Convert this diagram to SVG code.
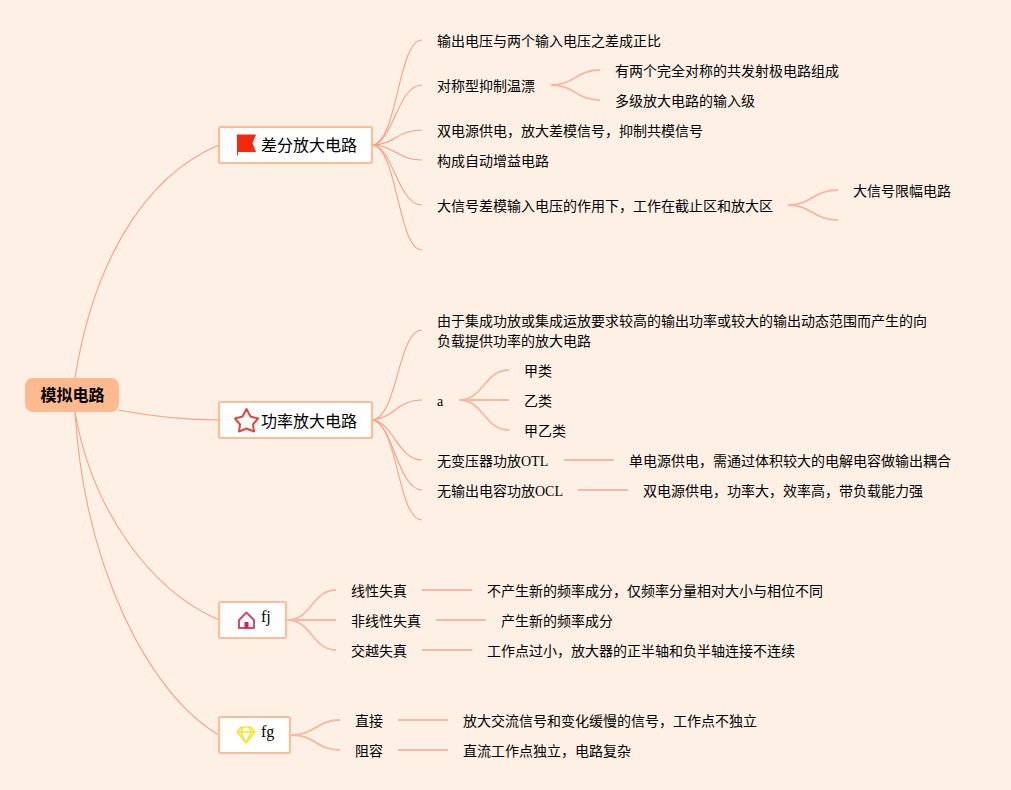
<svg xmlns="http://www.w3.org/2000/svg" width="1011" height="790" viewBox="0 0 1011 790">
<style>
text{font-family:"Liberation Serif","Noto Sans CJK SC",serif;font-size:14px;fill:#000}
.main{font-size:16px}
.root{font-size:16px;font-weight:700;fill:#000;font-family:"Liberation Sans","Noto Sans CJK SC",sans-serif}
.box{fill:#fff;stroke:#fcbe98;stroke-width:2.200}
.c{fill:none;stroke:#fb9f80;stroke-width:1.100}
.s{fill:none;stroke:#f8b9a0;stroke-width:1.800}
</style>
<rect width="1011" height="790" fill="#fff0e6"/>
<g id="connectors">
<path class="c" d="M75 378C92 270 140 178 219 145"/>
<path class="c" d="M118 410C150 416 180 420 219 420"/>
<path class="c" d="M75 412C92 510 150 590 219 620"/>
<path class="c" d="M75 412C85 570 150 695 219 735"/>
<path class="c" d="M373 145C398 140 398 40 422 40"/>
<path class="c" d="M373 145C393 142 398 85 422 85"/>
<path class="c" d="M373 145C393 145 398 130 422 130"/>
<path class="c" d="M373 145C393 145 398 160 422 160"/>
<path class="c" d="M373 145C393 147 398 205 422 205"/>
<path class="c" d="M373 145C398 150 398 250 422 250"/>
<path class="c" d="M373 420C398 415 398 330 422 330"/>
<path class="c" d="M373 420C393 418 398 400 422 400"/>
<path class="c" d="M373 420C393 422 398 460 422 460"/>
<path class="c" d="M373 420C393 423 398 490 422 490"/>
<path class="c" d="M373 420C398 425 398 520 422 520"/>
<path class="s" d="M551 85C575 85 576 70 600 70"/>
<path class="s" d="M551 85C575 85 576 100 600 100"/>
<path class="s" d="M788 205C812 205 813 190 838 190"/>
<path class="s" d="M788 205C812 205 813 220 838 220"/>
<path class="s" d="M459 400C484 400 484 370 509 370"/>
<path class="s" d="M459 400H509"/>
<path class="s" d="M459 400C484 400 484 430 509 430"/>
<path class="s" d="M564 460H614"/>
<path class="s" d="M578 490H628"/>
<path class="s" d="M287 620C312 620 312 590 336 590"/>
<path class="s" d="M287 620H336"/>
<path class="s" d="M287 620C312 620 312 650 336 650"/>
<path class="s" d="M422 590H472"/>
<path class="s" d="M436 620H486"/>
<path class="s" d="M422 650H472"/>
<path class="s" d="M291 735C316 735 316 720 340 720"/>
<path class="s" d="M291 735C316 735 316 750 340 750"/>
<path class="s" d="M398 720H448"/>
<path class="s" d="M398 750H448"/>
</g>
<g id="root"><rect x="25" y="378" width="94" height="34" rx="8" fill="#ffb98f"/><text class="root" x="40.500" y="401">模拟电路</text></g>
<g id="node-diff"><rect class="box" x="219" y="127" width="153" height="36" rx="2"/>
<path d="M237 134.500H256L252.500 143L256 152H238V155.500H237Z" fill="#f5280e"/><text class="main" x="261" y="151">差分放大电路</text></g>
<g id="node-power"><rect class="box" x="219" y="402" width="153" height="36" rx="2"/>
<path d="M246.500 409L250.500 416.500L258 418.500L253 424.500L254 431.500L246.500 428.500L239 431.500L240 424.500L235 418.500L242.500 416.500Z" fill="#fff" stroke="#e0493a" stroke-width="2" stroke-linejoin="round"/><text class="main" x="261" y="427">功率放大电路</text></g>
<g id="node-fj"><rect class="box" x="219" y="602" width="67" height="36" rx="2"/>
<path d="M239 628V620L246.500 612.500L254 620V628Z" fill="none" stroke="#d84a6b" stroke-width="2" stroke-linejoin="round"/><path d="M244.500 628V622H248.500V628Z" fill="#d6224f"/><text class="main" x="261" y="622">fj</text></g>
<g id="node-fg"><rect class="box" x="219" y="717" width="71" height="36" rx="2"/>
<path d="M241 727H251L255 732L246 743L237 732ZM237 732H255M243 727L241 732L246 743L251 732L249 727" fill="#fdf6a8" stroke="#f3e53a" stroke-width="1.600" stroke-linejoin="round"/><text class="main" x="261" y="737">fg</text></g>
<g id="leaves">
<text x="437" y="46">输出电压与两个输入电压之差成正比</text>
<text x="437" y="91">对称型抑制温漂</text>
<text x="615" y="76">有两个完全对称的共发射极电路组成</text>
<text x="615" y="106">多级放大电路的输入级</text>
<text x="437" y="136">双电源供电，放大差模信号，抑制共模信号</text>
<text x="437" y="166">构成自动增益电路</text>
<text x="437" y="211">大信号差模输入电压的作用下，工作在截止区和放大区</text>
<text x="853" y="196">大信号限幅电路</text>
<text x="437" y="326">由于集成功放或集成运放要求较高的输出功率或较大的输出动态范围而产生的向</text>
<text x="437" y="346">负载提供功率的放大电路</text>
<text x="437" y="406">a</text>
<text x="524" y="376">甲类</text>
<text x="524" y="406">乙类</text>
<text x="524" y="436">甲乙类</text>
<text x="437" y="466">无变压器功放OTL</text>
<text x="629" y="466">单电源供电，需通过体积较大的电解电容做输出耦合</text>
<text x="437" y="496">无输出电容功放OCL</text>
<text x="643" y="496">双电源供电，功率大，效率高，带负载能力强</text>
<text x="351" y="596">线性失真</text>
<text x="487" y="596">不产生新的频率成分，仅频率分量相对大小与相位不同</text>
<text x="351" y="626">非线性失真</text>
<text x="501" y="626">产生新的频率成分</text>
<text x="351" y="656">交越失真</text>
<text x="487" y="656">工作点过小，放大器的正半轴和负半轴连接不连续</text>
<text x="355" y="726">直接</text>
<text x="463" y="726">放大交流信号和变化缓慢的信号，工作点不独立</text>
<text x="355" y="756">阻容</text>
<text x="463" y="756">直流工作点独立，电路复杂</text>
</g>
</svg>
